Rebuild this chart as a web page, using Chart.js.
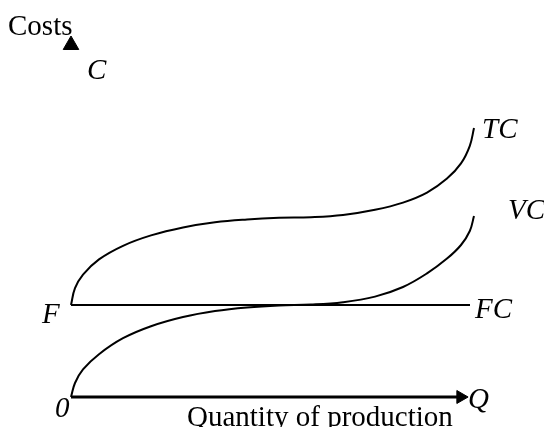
<!DOCTYPE html>
<html>
<head>
<meta charset="utf-8">
<script src="https://cdn.jsdelivr.net/npm/chart.js@4"></script>
<style>
  html, body { margin: 0; padding: 0; background: #fff; }
  #wrap { width: 544px; height: 427px; }
</style>
</head>
<body>
<div id="wrap"><canvas id="myChart"></canvas></div>
<script>
// curve values (x = quantity, y = cost)
const tcX = [0, 1, 3, 7, 13, 20, 28, 36, 44, 52, 60, 68, 76, 83, 89, 94, 97.5, 99.7, 100.75];
const tcY = [23, 27.2, 30.6, 34.4, 37.8, 40.4, 42.4, 43.7, 44.4, 44.8, 44.95, 45.5, 46.8, 48.6, 51.1, 54.6, 58.4, 62.8, 67.25];

const vcX = [0, 1, 3, 7, 13, 20, 28, 36, 44, 52, 60, 68, 76, 83, 89, 94, 97.5, 99.7, 100.75];
const vcY = [0, 3.5, 6.9, 10.7, 14.7, 17.7, 20, 21.5, 22.4, 22.9, 23.1, 23.7, 25.1, 27.5, 30.9, 34.6, 38, 41.5, 45.25];

const fcX = [0, 99.75];
const fcY = [23, 23];

const axisX = [0, 97.4];
const axisY = [0, 0];
const arrowTop = [0, 88];

const pts = (xs, ys) => xs.map((x, i) => ({ x: x, y: ys[i] }));

// labels drawn on top, positions in data units
const labels = [
  { t: 'Costs', x: -15.75, y: 90.5, it: false },
  { t: 'C', x: 4, y: 79.5, it: true },
  { t: 'TC', x: 102.75, y: 64.75, it: true },
  { t: 'VC', x: 109.25, y: 44.5, it: true },
  { t: 'FC', x: 101, y: 19.75, it: true },
  { t: 'F', x: -7.25, y: 18.5, it: true },
  { t: '0', x: -4, y: -5, it: true },
  { t: 'Q', x: 99.25, y: -2.75, it: true },
  { t: 'Quantity of production', x: 29, y: -7.25, it: false }
];

const textPlugin = {
  id: 'texts',
  afterDraw(chart) {
    const c = chart.ctx;
    const xs = chart.scales.x, ys = chart.scales.y;
    c.save();
    c.fillStyle = '#000';
    c.textBaseline = 'alphabetic';
    c.textAlign = 'left';
    labels.forEach(l => {
      c.font = (l.it ? 'italic ' : '') + '29px "Liberation Serif", "Times New Roman", serif';
      c.fillText(l.t, xs.getPixelForValue(l.x), ys.getPixelForValue(l.y));
    });
    c.restore();
  }
};

const line = (data, w) => ({
  data: data,
  showLine: true,
  borderColor: '#000',
  borderWidth: w,
  pointRadius: 0,
  fill: false,
  tension: 0.4,
  clip: false
});

new Chart(document.getElementById('myChart'), {
  type: 'scatter',
  data: {
    datasets: [
      line(pts(tcX, tcY), 2),
      line(pts(vcX, vcY), 2),
      line(pts(fcX, fcY), 2),
      Object.assign(line(pts(axisX, axisY), 3), {
        tension: 0,
        pointStyle: 'triangle',
        pointRotation: 90,
        pointRadius: [0, 7.5],
        pointBackgroundColor: '#000',
        pointBorderColor: '#000',
        pointBorderWidth: 1
      }),
      {
        data: [{ x: arrowTop[0], y: arrowTop[1] }],
        pointStyle: 'triangle',
        pointRadius: 9,
        pointBackgroundColor: '#000',
        pointBorderColor: '#000',
        pointBorderWidth: 1,
        showLine: false,
        clip: false
      }
    ]
  },
  options: {
    responsive: true,
    maintainAspectRatio: false,
    animation: false,
    events: [],
    layout: { padding: { left: 71, right: 69, top: 37, bottom: 30 } },
    plugins: { legend: { display: false }, tooltip: { enabled: false } },
    scales: {
      x: { type: 'linear', min: 0, max: 101, display: false },
      y: { type: 'linear', min: 0, max: 90, display: false }
    }
  },
  plugins: [textPlugin]
});
</script>
</body>
</html>
